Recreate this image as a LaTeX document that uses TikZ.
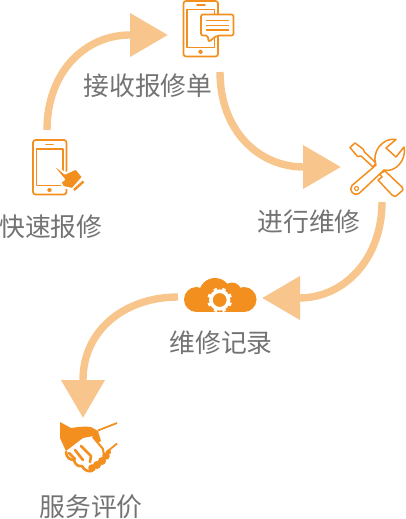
\documentclass[tikz,border=0pt]{standalone}
\usepackage{fontspec}
\usepackage{xcolor}
\usepackage{tikz}
\usetikzlibrary{arrows.meta}
\newfontfamily\cjk{Noto Sans CJK SC}
\definecolor{IconOrange}{RGB}{242,143,30}
\definecolor{FlowOrange}{RGB}{248,198,140}
\definecolor{LabelGray}{RGB}{115,115,115}
\tikzset{
    steplabel/.style={text=LabelGray, font=\cjk\fontsize{25.8}{26}\selectfont, inner sep=0pt},
    flowarrow/.style={draw=FlowOrange, line width=7.4pt, -{Triangle[length=38pt,width=42pt,fill=FlowOrange]}},
    iconline/.style={draw=IconOrange, line width=1.7pt, line join=round, fill=white},
    toolline/.style={iconline, line width=1.5pt},
    handline/.style={draw=IconOrange, line width=2.6pt, line cap=round, line join=round}
}
\begin{document}
\begin{tikzpicture}[x=1pt,y=-1pt]
    \useasboundingbox (0,0) rectangle (405,519);

    % 1. LABELS
    \node[steplabel] (report) at (51,227) {快速报修};
    \node[steplabel] (receive) at (148,86) {接收报修单};
    \node[steplabel] (repair) at (309,222) {进行维修};
    \node[steplabel] (record) at (221,343) {维修记录};
    \node[steplabel] (review) at (91,507) {服务评价};

    % 2. ARROWS
    \coordinate (a1) at (47,130);
    \coordinate (a2) at (168,35);
    \coordinate (a3) at (130,35);
    \coordinate (b1) at (220,72);
    \coordinate (b2) at (341,167);
    \coordinate (b3) at (304,167);
    \coordinate (c1) at (382,202);
    \coordinate (c2) at (262,298);
    \coordinate (c3) at (299,298);
    \coordinate (d1) at (178,297);
    \coordinate (d2) at (83,418);
    \coordinate (d3) at (83,380);
    \draw[flowarrow] (a1) .. controls (47,72) and (85,35) .. (a3) -- (a2);
    \draw[flowarrow] (b1) .. controls (220,130) and (258,167) .. (b3) -- (b2);
    \draw[flowarrow] (c1) .. controls (382,258) and (345,298) .. (c3) -- (c2);
    \draw[flowarrow] (d1) .. controls (125,297) and (83,330) .. (d3) -- (d2);

    % 3. PHONE WITH HAND
    \draw[iconline, rounded corners=2.5pt] (33,140) rectangle (66.5,194.5);
    \draw[iconline] (36.5,149) rectangle (63,185.5);
    \draw[iconline, line cap=round] (46,144.5) -- (53,144.5);
    \draw[iconline] (49.5,190) circle (1.4);
    \draw[draw=white, line width=2pt, fill=IconOrange, line join=round]
        (54.5,168) -- (56.5,166.5) -- (65,173.5) -- (76,168.5) -- (83,177) -- (72.5,189) -- (63,187) -- (60.5,182) -- (64,179.5) -- cycle;
    \draw[draw=IconOrange, line width=2.4pt] (74,190) -- (83.5,181.5);

    % 4. PHONE WITH MESSAGE
    \draw[iconline, rounded corners=2.5pt] (183.5,1) rectangle (218,56.5);
    \draw[iconline] (187,9.5) rectangle (214.5,47.5);
    \draw[iconline, line cap=round] (197,5) -- (205,5);
    \draw[iconline] (200.5,51.8) circle (1.5);
    \draw[iconline, rounded corners=2pt] (208.5,42) -- (208,35.5) -- (201,35.5) -- (201,14.5) -- (233.5,14.5) -- (233.5,35.5) -- (217,35.5) -- cycle;
    \foreach \ty in {20.5,25.3,30} {
        \draw[draw=IconOrange, line width=1.5pt] (206,\ty) -- (228.5,\ty);
    }

    % 5. TOOLS
    \draw[toolline] (350,147.5) -- (355,143) -- (363,149) -- (364.5,152) -- (376,163) -- (373,167) -- (361,156) -- (357.5,156.5) -- cycle;
    \draw[toolline] (385,171) -- (402,187) .. controls (403.5,189) and (403,190) .. (402,191) -- (396,196) .. controls (394.5,196.5) and (393.5,196) .. (392,195) -- (378,180) -- (382,177) -- (379.5,174) -- cycle;
    \draw[toolline] (376,165) -- (352,185.5) .. controls (348,190) and (354,197) .. (359,193.5) -- (384,170) .. controls (395,173) and (407,160) .. (404,147) -- (396,157) -- (386,148) -- (396,139.5) .. controls (383,137) and (371,152) .. (376,165) -- cycle;
    \draw[toolline, line width=1.1pt] (356.5,188.5) circle (2);

    % 6. CLOUD
    \fill[IconOrange] (196.5,299.5) circle (12.5);
    \fill[IconOrange] (215,294) circle (16);
    \fill[IconOrange] (232,292) circle (9.5);
    \fill[IconOrange] (244,299.5) circle (12.5);
    \fill[IconOrange] (196,296) rectangle (244,312);
    \foreach \tooth in {0,45,...,315} {
        \draw[white, line width=3.4pt] (219.7,300) ++(\tooth+22:9) -- ++(\tooth+22:3.4);
    }
    \draw[white, line width=3.6pt] (219.7,300) circle (8.8);

    % 7. HANDSHAKE
    \fill[IconOrange] (60,422) -- (71,428) .. controls (78,427) and (85,426) .. (91,427) -- (98,431) -- (101,441) -- (97,443) -- (93,436) -- (83,438) -- (66,451) -- (60,438) -- cycle;
    \draw[handline, line width=1.8pt, line cap=butt] (98,430.5) -- (117,423);
    \draw[handline, line width=1.8pt, line cap=butt] (108,451) -- (117,443.5);
    \draw[handline, line width=2pt] (93,437) -- (103,449) -- (104,456);
    \draw[handline] (66,452) .. controls (66,458) and (71,460) .. (74,460) .. controls (75,465) and (79,467) .. (82,466) .. controls (84,470) and (88,472) .. (92,471);
    \draw[handline] (69,453) -- (75,459);
    \draw[handline] (75,450) -- (83,460);
    \draw[handline] (81,446) -- (91,456) -- (90,462);
    \foreach \bx/\by/\br in {92/468/3.8, 97/465/4, 102/461/4, 106/456/3.8, 108.5/452/2.6} {
        \fill[IconOrange] (\bx,\by) circle (\br);
    }
\end{tikzpicture}
\end{document}
